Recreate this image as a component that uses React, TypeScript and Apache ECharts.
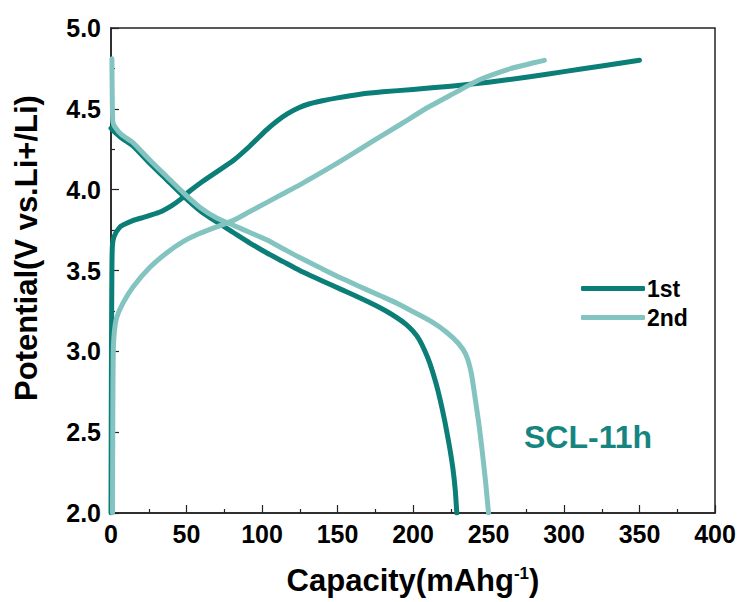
import React, { useEffect, useRef } from "react";
import * as echarts from "echarts";

const charge1st: number[][] = [
  [0, 2.0], [0.3, 3.0], [0.6, 3.5], [0.9, 3.65], [2, 3.71], [6, 3.77], [10, 3.79], [14.8, 3.81],
  [22, 3.83], [32, 3.86], [40, 3.9], [46, 3.94], [52, 3.99], [59, 4.04], [70, 4.11], [81, 4.18],
  [92, 4.27], [103, 4.37], [110, 4.425], [117, 4.47], [124, 4.505], [131, 4.53], [140, 4.55],
  [150, 4.568], [165, 4.59], [180, 4.605], [200, 4.62], [225, 4.64], [250, 4.665], [275, 4.695],
  [300, 4.73], [325, 4.765], [350, 4.8],
];
const discharge1st: number[][] = [
  [0, 4.38], [0.9, 4.37], [7, 4.32], [14.7, 4.27], [25, 4.17], [37, 4.06], [48, 3.96], [59, 3.87],
  [70, 3.8], [81, 3.735], [92, 3.67], [103, 3.61], [114, 3.555], [125, 3.5], [140, 3.435], [152, 3.385],
  [165, 3.33], [175, 3.285], [183, 3.245], [189, 3.21], [195, 3.17], [200, 3.125], [204, 3.075],
  [207.5, 3.01], [211, 2.93], [215, 2.81], [218, 2.7], [221, 2.57], [224, 2.42], [226.5, 2.27],
  [228, 2.14], [229, 2.0],
];
const charge2nd: number[][] = [
  [1, 2.0], [1.2, 2.6], [1.5, 3.0], [2.2, 3.12], [3.8, 3.21], [8, 3.3], [14.7, 3.4], [25.8, 3.52],
  [37, 3.61], [48, 3.68], [59, 3.73], [70, 3.77], [81, 3.81], [92, 3.865], [103, 3.92], [114, 3.975],
  [125, 4.03], [140, 4.11], [158, 4.21], [175, 4.31], [191, 4.4], [210, 4.51], [228, 4.6], [244, 4.68],
  [265, 4.75], [280, 4.785], [287, 4.8],
];
const discharge2nd: number[][] = [
  [0.6, 4.81], [0.8, 4.6], [1.2, 4.42], [2.5, 4.39], [7, 4.34], [14.7, 4.29], [25, 4.19], [37, 4.08],
  [48, 3.98], [59, 3.89], [70, 3.825], [81, 3.78], [92, 3.735], [103, 3.69], [114, 3.635], [125, 3.58],
  [140, 3.51], [152, 3.455], [165, 3.4], [178, 3.345], [190, 3.295], [200, 3.245], [212, 3.185],
  [222, 3.12], [230, 3.05], [235, 2.98], [238.5, 2.87], [241, 2.72], [243.5, 2.56], [245.5, 2.41],
  [248, 2.2], [250, 2.0],
];
const seriesNames = ["1st", "2nd"];
const annotation = "SCL-11h";
const xName = "Capacity(mAhg{sup|-1})";
const yName = "Potential(V vs.Li+/Li)";

const DARK = "#0b7e78";
const LIGHT = "#83c4c0";
const FONT = "Arial, 'Liberation Sans', sans-serif";

export default function App() {
  const ref = useRef<HTMLDivElement>(null);
  useEffect(() => {
    if (!ref.current) return;
    const chart = echarts.init(ref.current, undefined, { renderer: "svg" });
    const lineSeries = (name: string, data: number[][], color: string) => ({
      name,
      type: "line",
      data,
      showSymbol: false,
      symbol: "none",
      smooth: 0.2,
      lineStyle: { color, width: 5, cap: "round", join: "round" },
      itemStyle: { color },
    });
    chart.setOption({
      animation: false,
      backgroundColor: "#ffffff",
      grid: {
        left: 111, top: 28, right: 24, bottom: 89,
        show: true, borderColor: "#222", borderWidth: 1.5, backgroundColor: "transparent",
      },
      legend: {
        data: seriesNames,
        orient: "vertical",
        left: 576,
        top: 272,
        itemWidth: 64,
        itemHeight: 5,
        itemGap: 6,
        icon: "roundRect",
        textStyle: { fontFamily: FONT, fontWeight: "bold", fontSize: 23, color: "#000", padding: [0, 0, 0, -3] },
      },
      xAxis: {
        type: "value",
        min: 0, max: 400, interval: 50,
        name: xName,
        nameLocation: "middle",
        nameGap: 52,
        nameTextStyle: {
          fontFamily: FONT, fontWeight: "bold", fontSize: 31, color: "#000",
          rich: {
            sup: { fontFamily: FONT, fontWeight: "bold", fontSize: 17, color: "#000", verticalAlign: "top", padding: [0, 0, 14, 0] },
          },
        },
        axisLine: { show: true, lineStyle: { color: "#222", width: 1.5 } },
        axisTick: { show: true, inside: true, length: 8, lineStyle: { color: "#222", width: 1.2 } },
        minorTick: { show: true, splitNumber: 2, length: 4, lineStyle: { color: "#222", width: 1.2 } },
        splitLine: { show: false },
        axisLabel: { fontFamily: FONT, fontWeight: "bold", fontSize: 25, color: "#000", margin: 8 },
      },
      yAxis: {
        type: "value",
        min: 2, max: 5, interval: 0.5,
        axisLine: { show: true, lineStyle: { color: "#222", width: 1.5 } },
        axisTick: { show: true, inside: true, length: 8, lineStyle: { color: "#222", width: 1.2 } },
        minorTick: { show: true, splitNumber: 2, length: 4, lineStyle: { color: "#222", width: 1.2 } },
        splitLine: { show: false },
        axisLabel: {
          fontFamily: FONT, fontWeight: "bold", fontSize: 25, color: "#000", margin: 10,
          formatter: (v: number) => v.toFixed(1),
        },
      },
      graphic: [
        {
          type: "text",
          x: 26, y: 248, rotation: Math.PI / 2,
          style: {
            text: yName, fontFamily: FONT, fontWeight: "bold", fontSize: 31, fill: "#000",
            align: "center", verticalAlign: "middle",
          },
        },
        {
          type: "text",
          x: 524, y: 437,
          style: {
            text: annotation, fontFamily: FONT, fontWeight: "bold",
            fontSize: 32, fill: "#17857f", align: "left", verticalAlign: "middle",
          },
        },
      ],
      series: [
        lineSeries(seriesNames[0], charge1st, DARK),
        lineSeries(seriesNames[0], discharge1st, DARK),
        lineSeries(seriesNames[1], charge2nd, LIGHT),
        lineSeries(seriesNames[1], discharge2nd, LIGHT),
      ],
    });
    return () => chart.dispose();
  }, []);
  return <div ref={ref} style={{ width: 739, height: 602, position: "absolute", left: 0, top: 0 }} />;
}
